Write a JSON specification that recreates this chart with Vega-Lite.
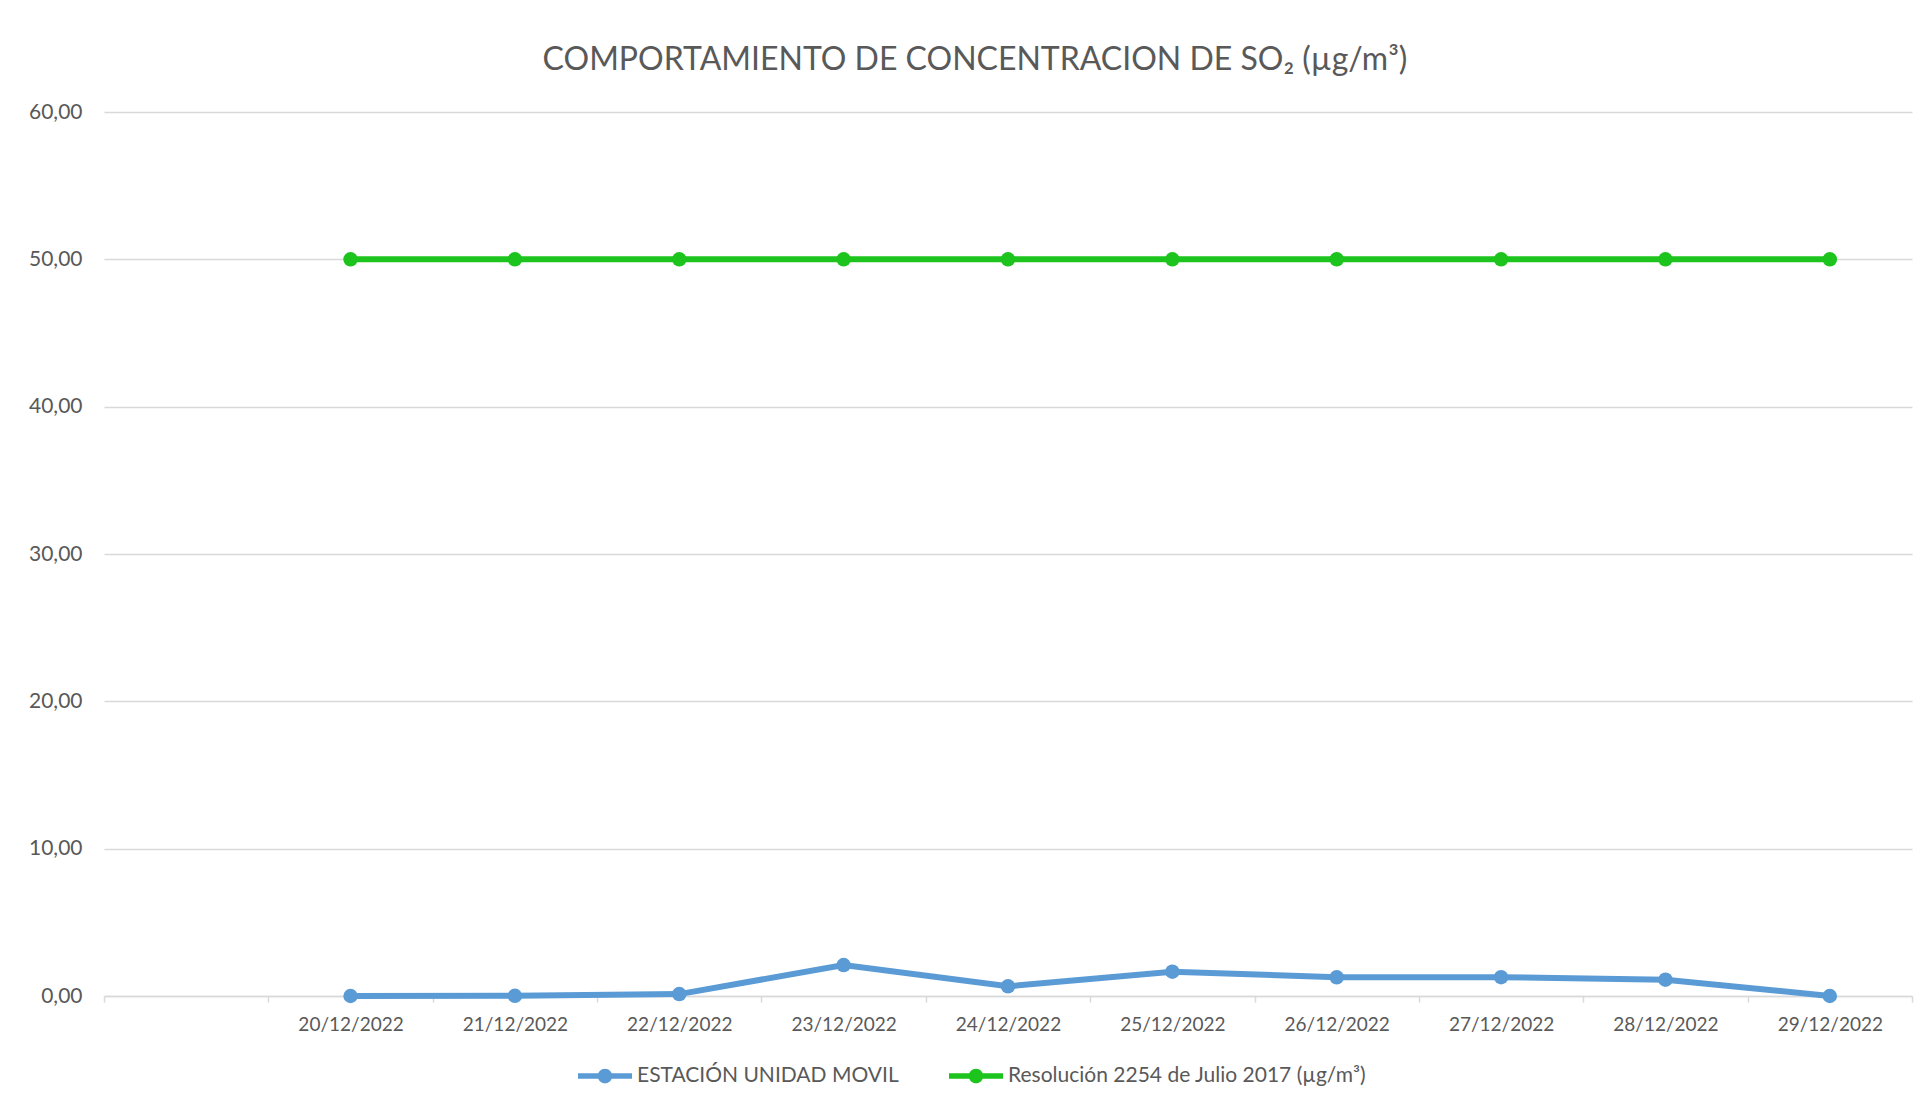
{
  "$schema": "https://vega.github.io/schema/vega-lite/v6.json",
  "width": 1808,
  "height": 884,
  "autosize": {"type": "none"},
  "padding": {"left": 104, "top": 112, "right": 13, "bottom": 109},
  "background": "white",
  "config": {"view": {"stroke": null}, "font": "Lato"},
  "title": {
    "text": "COMPORTAMIENTO DE CONCENTRACION DE SO₂ (µg/m³)",
    "fontSize": 32,
    "fontWeight": "normal",
    "color": "#595959",
    "font": "Lato",
    "anchor": "middle",
    "dx": -33,
    "offset": 24
  },
  "data": {
    "values": [
      {"fecha": "20/12/2022", "serie": "ESTACIÓN UNIDAD MOVIL", "valor": 0.0},
      {"fecha": "21/12/2022", "serie": "ESTACIÓN UNIDAD MOVIL", "valor": 0.01},
      {"fecha": "22/12/2022", "serie": "ESTACIÓN UNIDAD MOVIL", "valor": 0.13},
      {"fecha": "23/12/2022", "serie": "ESTACIÓN UNIDAD MOVIL", "valor": 2.1},
      {"fecha": "24/12/2022", "serie": "ESTACIÓN UNIDAD MOVIL", "valor": 0.66},
      {"fecha": "25/12/2022", "serie": "ESTACIÓN UNIDAD MOVIL", "valor": 1.65},
      {"fecha": "26/12/2022", "serie": "ESTACIÓN UNIDAD MOVIL", "valor": 1.27},
      {"fecha": "27/12/2022", "serie": "ESTACIÓN UNIDAD MOVIL", "valor": 1.28},
      {"fecha": "28/12/2022", "serie": "ESTACIÓN UNIDAD MOVIL", "valor": 1.11},
      {"fecha": "29/12/2022", "serie": "ESTACIÓN UNIDAD MOVIL", "valor": 0.0},
      {"fecha": "20/12/2022", "serie": "Resolución 2254 de Julio 2017 (µg/m³)", "valor": 50},
      {"fecha": "21/12/2022", "serie": "Resolución 2254 de Julio 2017 (µg/m³)", "valor": 50},
      {"fecha": "22/12/2022", "serie": "Resolución 2254 de Julio 2017 (µg/m³)", "valor": 50},
      {"fecha": "23/12/2022", "serie": "Resolución 2254 de Julio 2017 (µg/m³)", "valor": 50},
      {"fecha": "24/12/2022", "serie": "Resolución 2254 de Julio 2017 (µg/m³)", "valor": 50},
      {"fecha": "25/12/2022", "serie": "Resolución 2254 de Julio 2017 (µg/m³)", "valor": 50},
      {"fecha": "26/12/2022", "serie": "Resolución 2254 de Julio 2017 (µg/m³)", "valor": 50},
      {"fecha": "27/12/2022", "serie": "Resolución 2254 de Julio 2017 (µg/m³)", "valor": 50},
      {"fecha": "28/12/2022", "serie": "Resolución 2254 de Julio 2017 (µg/m³)", "valor": 50},
      {"fecha": "29/12/2022", "serie": "Resolución 2254 de Julio 2017 (µg/m³)", "valor": 50}
    ]
  },
  "mark": {"type": "line", "strokeWidth": 6, "point": {"filled": true, "size": 210, "opacity": 1}},
  "encoding": {
    "x": {
      "field": "fecha",
      "type": "ordinal",
      "sort": null,
      "bandPosition": 0.5,
      "scale": {
        "type": "band",
        "domain": [" ", "20/12/2022", "21/12/2022", "22/12/2022", "23/12/2022", "24/12/2022", "25/12/2022", "26/12/2022", "27/12/2022", "28/12/2022", "29/12/2022"],
        "paddingInner": 0,
        "paddingOuter": 0
      },
      "axis": {
        "title": null,
        "tickBand": "extent",
        "labelAngle": 0,
        "grid": false,
        "domainColor": "#d9d9d9",
        "domainWidth": 1.5,
        "tickColor": "#d9d9d9",
        "tickWidth": 1.5,
        "tickSize": 6,
        "labelColor": "#595959",
        "labelFont": "Lato",
        "labelFontSize": 19,
        "labelPadding": 13
      }
    },
    "y": {
      "field": "valor",
      "type": "quantitative",
      "scale": {"domain": [0, 60], "nice": false},
      "axis": {
        "title": null,
        "values": [0, 10, 20, 30, 40, 50, 60],
        "labelExpr": "replace(format(datum.value, '.2f'), '.', ',')",
        "domain": false,
        "ticks": false,
        "grid": true,
        "gridColor": "#d9d9d9",
        "gridWidth": 1.5,
        "labelColor": "#595959",
        "labelFont": "Lato",
        "labelFontSize": 21,
        "labelPadding": 22
      }
    },
    "color": {
      "field": "serie",
      "type": "nominal",
      "scale": {
        "domain": ["ESTACIÓN UNIDAD MOVIL", "Resolución 2254 de Julio 2017 (µg/m³)"],
        "range": ["#5b9bd5", "#1dc41d"]
      },
      "legend": {
        "title": null,
        "orient": "none",
        "legendX": 474,
        "legendY": 937,
        "direction": "horizontal",
        "symbolType": "M-1,-0.1H1V0.1H-1Z M0,-0.27A0.27,0.27,0,1,1,0,0.27A0.27,0.27,0,1,1,0,-0.27Z",
        "symbolSize": 2916,
        "symbolStrokeWidth": 0,
        "symbolOpacity": 1,
        "labelFont": "Lato",
        "labelFontSize": 21,
        "labelColor": "#595959",
        "labelOffset": 5,
        "labelLimit": 0,
        "columnPadding": 50,
        "encode": {
          "symbols": {
            "update": {
              "fill": {"scale": "color", "field": "value"},
              "stroke": {"value": "transparent"},
              "opacity": {"value": 1}
            }
          }
        }
      }
    }
  }
}
